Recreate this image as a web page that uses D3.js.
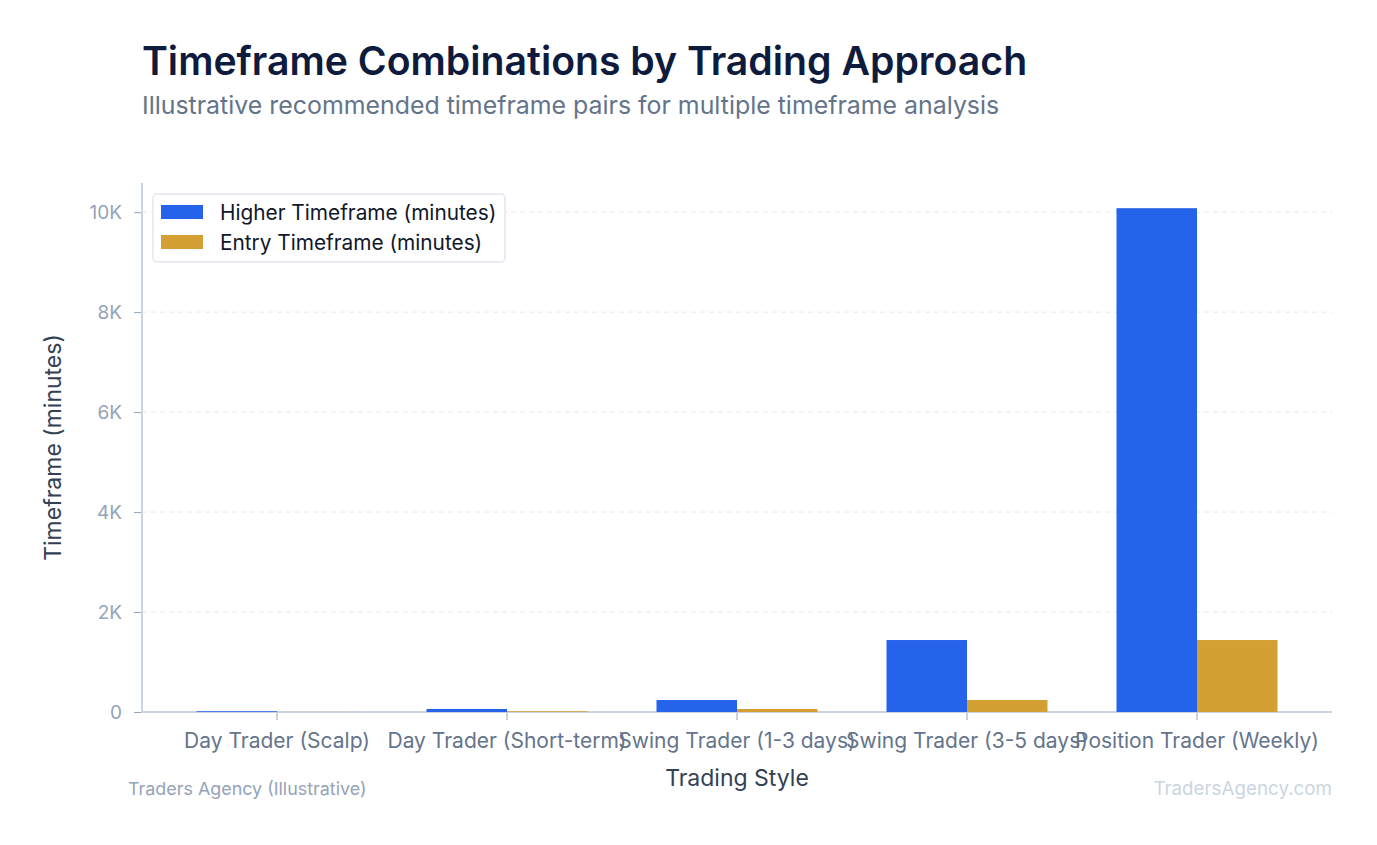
<!DOCTYPE html>
<html><head><meta charset="utf-8">
<script src="https://cdn.jsdelivr.net/npm/d3@7"></script>
<style>
html,body{margin:0;padding:0;background:#fff;}
svg{display:block;font-family:Inter,"Noto Sans",sans-serif;}
</style></head>
<body>
<svg id="chart" width="1377" height="845"></svg>
<script>
const categories = ["Day Trader (Scalp)","Day Trader (Short-term)","Swing Trader (1-3 days)","Swing Trader (3-5 days)","Position Trader (Weekly)"];
const seriesNames = ["Higher Timeframe (minutes)","Entry Timeframe (minutes)"];
const higherValues = [15, 60, 240, 1440, 10080];
const entryValues = [1, 15, 60, 240, 1440];
const yTicks = [0, 2000, 4000, 6000, 8000, 10000];
const yTickLabels = ["0","2K","4K","6K","8K","10K"];
const colors = ["#2563eb","#d49f33"];

const svg = d3.select("#chart");
const L = 142, R = 1332, T = 183, B = 712;

const y = d3.scaleLinear().domain([0, 10584]).range([B, T]);
const x0 = d3.scaleBand().domain(categories).range([162, 1312]).paddingInner(0.3).paddingOuter(0.15);
const x1 = d3.scaleBand().domain(seriesNames).range([0, x0.bandwidth()]);

// title
svg.append("text").attr("x",142).attr("y",75).attr("font-size",39.2).attr("font-weight",600).attr("fill","#0f1b3d").text("Timeframe Combinations by Trading Approach");
svg.append("text").attr("x",142).attr("y",114).attr("font-size",24.9).attr("fill","#64748b").text("Illustrative recommended timeframe pairs for multiple timeframe analysis");

// grid
svg.append("g").selectAll("line").data(yTicks.filter(d=>d>0)).join("line")
  .attr("x1",L).attr("x2",R).attr("y1",d=>y(d)).attr("y2",d=>y(d))
  .attr("stroke","#e5e9f0").attr("stroke-dasharray","5,4").attr("stroke-width",1);

// y axis
const yAxis = d3.axisLeft(y).tickValues(yTicks).tickFormat((d,i)=>yTickLabels[i]).tickSize(8).tickPadding(12);
const ya = svg.append("g").attr("transform",`translate(${L},0)`).call(yAxis);
ya.select(".domain").remove();
ya.selectAll(".tick line").attr("stroke","#94a3b8");
ya.selectAll(".tick text").attr("font-size",19).attr("fill","#94a3b8").attr("font-family","Inter");
svg.append("line").attr("x1",L).attr("x2",L).attr("y1",T).attr("y2",B+1).attr("stroke","#cbd5e1").attr("stroke-width",2);

// x axis
const xAxis = d3.axisBottom(x0).tickSize(8).tickPadding(13);
const xa = svg.append("g").attr("transform",`translate(0,${B})`).call(xAxis);
xa.select(".domain").remove();
xa.selectAll(".tick line").attr("stroke","#94a3b8");
xa.selectAll(".tick text").attr("font-size",21).attr("fill","#64748b").attr("font-family","Inter");
svg.append("line").attr("x1",L-1).attr("x2",R).attr("y1",B).attr("y2",B).attr("stroke","#cbd5e1").attr("stroke-width",2);

// bars (drawn over the axis line)
const rows = categories.map((c,i)=>({cat:c, vals:[higherValues[i], entryValues[i]]}));
const g = svg.append("g");
rows.forEach(r=>{
  r.vals.forEach((v,j)=>{
    g.append("rect")
      .attr("x", x0(r.cat) + x1(seriesNames[j]))
      .attr("width", x1.bandwidth())
      .attr("y", y(v))
      .attr("height", B - y(v))
      .attr("fill", colors[j]);
  });
});

// axis titles
svg.append("text").attr("transform",`translate(61,${(T+B)/2}) rotate(-90)`).attr("text-anchor","middle")
  .attr("font-size",23).attr("fill","#334155").text("Timeframe (minutes)");
svg.append("text").attr("x",737).attr("y",786).attr("text-anchor","middle")
  .attr("font-size",23).attr("fill","#334155").text("Trading Style");

// footer
svg.append("text").attr("x",128).attr("y",795).attr("font-size",17.9).attr("fill","#94a3b8").text("Traders Agency (Illustrative)");
svg.append("text").attr("x",1332).attr("y",795).attr("text-anchor","end").attr("font-size",18.8).attr("fill","#cbd5e1").text("TradersAgency.com");

// legend
const lg = svg.append("g");
lg.append("rect").attr("x",153).attr("y",194).attr("width",352).attr("height",68).attr("rx",4)
  .attr("fill","#fff").attr("stroke","#e2e8f0").attr("stroke-width",1.5);
seriesNames.forEach((n,i)=>{
  lg.append("rect").attr("x",161).attr("y",205+i*30).attr("width",42).attr("height",14).attr("fill",colors[i]);
  lg.append("text").attr("x",220).attr("y",219.5+i*30).attr("font-size",20.8).attr("fill","#0f172a").text(n);
});
</script>
</body></html>
